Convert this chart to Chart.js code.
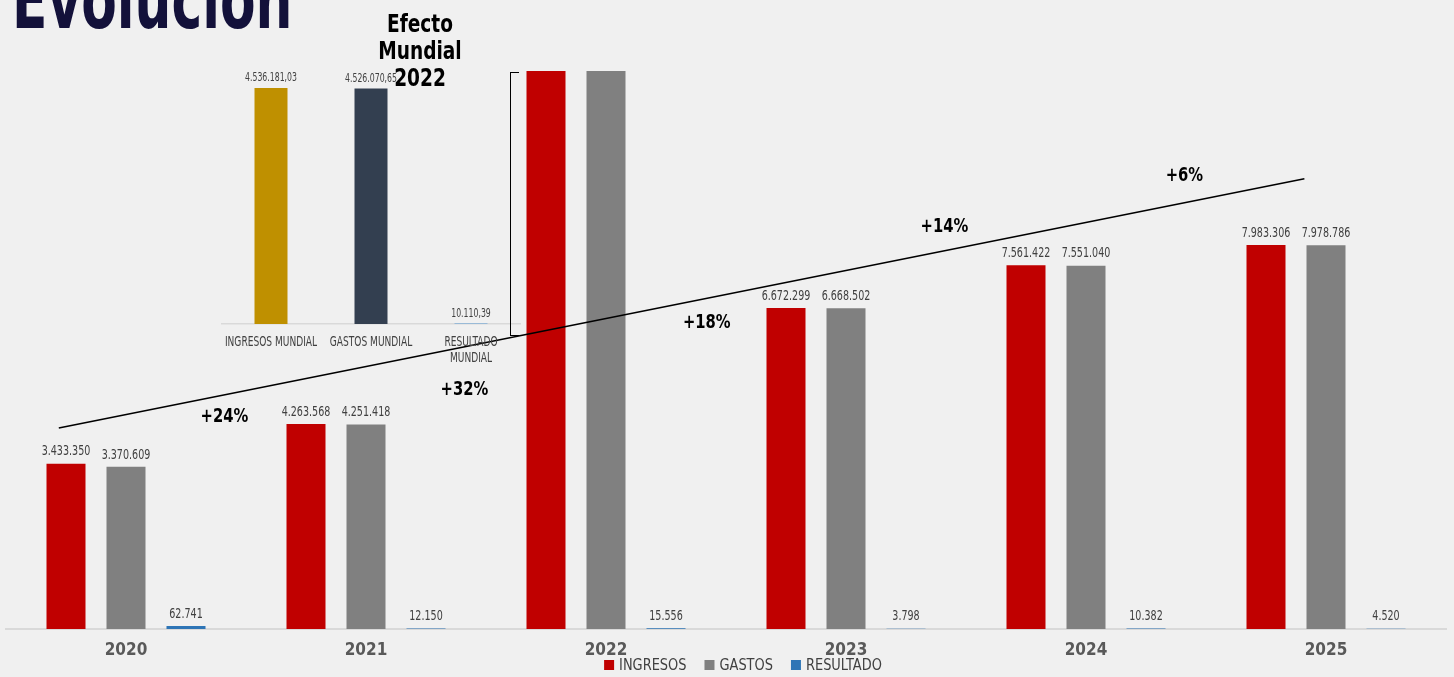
<!DOCTYPE html>
<html lang="es">
<head>
<meta charset="utf-8">
<title>Evolución</title>
<script src="https://cdn.jsdelivr.net/npm/chart.js@4.4.1/dist/chart.umd.min.js"></script>
<style>
  html, body { margin: 0; padding: 0; background: #f0f0f0; overflow: hidden; }
  #wrap { position: relative; width: 1454px; height: 677px; }
  #main { position: absolute; left: 0; top: 0; }
  #inset { position: absolute; left: 221px; top: 60px; }
  .title {
    position: absolute; left: 12px; top: -39px; white-space: nowrap;
    font: bold 80px/1 "DejaVu Sans Condensed", sans-serif;
    color: #13113a; transform-origin: left top; transform: scaleX(0.72);
  }
  .efecto {
    position: absolute; left: 360px; top: 11px; width: 120px; text-align: center;
    font: bold 24px/27px "DejaVu Sans Condensed", sans-serif;
    color: #000; transform: scaleX(0.86);
  }
  .bracket {
    position: absolute; left: 510px; top: 72px; width: 8px; height: 262px;
    border: 1.5px solid #000; border-right: none;
  }
</style>
</head>
<body>
<div id="wrap">
  <canvas id="main" width="1454" height="677"></canvas>
  <canvas id="inset" width="300" height="310"></canvas>
  <div class="bracket"></div>
  <div class="title">Evolución</div>
  <div class="efecto">Efecto<br>Mundial<br>2022</div>
</div>
<script>
const FONT = '"DejaVu Sans Condensed", sans-serif';

// main chart data
const years = ["2020", "2021", "2022", "2023", "2024", "2025"];
const ingresos = [3433350, 4263568, 12000000, 6672299, 7561422, 7983306]; // 2022 runs off the top
const gastos = [3370609, 4251418, 11990000, 6668502, 7551040, 7978786];
const resultado = [62741, 12150, 15556, 3798, 10382, 4520];

// trend line (x in category index units)
const trendX = [-0.28, 4.91];
const trendY = [4180000, 9360000];

// growth notes between years
const growthText = ["+24%", "+32%", "+18%", "+14%", "+6%"];
const growthX = [0.41, 1.41, 2.42, 3.41, 4.41];
const growthY = [4410000, 4970000, 6360000, 8360000, 9420000];

// inset: Mundial 2022
const mundialLabels = [["INGRESOS MUNDIAL"], ["GASTOS MUNDIAL"], ["RESULTADO", "MUNDIAL"]];
const mundialValues = [4536181.03, 4526070.65, 10110.39];
const mundialColors = ["#bf9000", "#333f50", "#5b9bd5"];

const fmt = (v, d = 0) => {
  const [i, f] = v.toFixed(d).split(".");
  return i.replace(/\B(?=(\d{3})+(?!\d))/g, ".") + (f ? "," + f : "");
};

// narrow text: the source font is a condensed one, squeeze horizontally
const narrowText = (ctx, text, x, y, sx) => {
  ctx.save();
  ctx.translate(x, y);
  ctx.scale(sx, 1);
  ctx.fillText(text, 0, 0);
  ctx.restore();
};

const barLabels = (decimals, size, sx, gap) => ({
  id: "barLabels",
  afterDatasetsDraw(chart) {
    const { ctx, scales: { y } } = chart;
    ctx.save();
    ctx.font = `${size}px ${FONT}`;
    ctx.fillStyle = "#404040";
    ctx.textAlign = "center";
    ctx.textBaseline = "bottom";
    chart.data.datasets.forEach((ds, di) => {
      chart.getDatasetMeta(di).data.forEach((bar, i) => {
        if (ds.data[i] > y.max) return;
        narrowText(ctx, fmt(ds.data[i], decimals), bar.x, bar.y - gap, sx);
      });
    });
    ctx.restore();
  }
});

const trendAndNotes = {
  id: "trendAndNotes",
  afterDatasetsDraw(chart) {
    const { ctx, scales: { x, y } } = chart;
    ctx.save();
    ctx.strokeStyle = "#000";
    ctx.lineWidth = 1.5;
    ctx.beginPath();
    trendX.forEach((v, i) => {
      const px = x.getPixelForValue(v), py = y.getPixelForValue(trendY[i]);
      i ? ctx.lineTo(px, py) : ctx.moveTo(px, py);
    });
    ctx.stroke();
    ctx.font = `bold 20px ${FONT}`;
    ctx.fillStyle = "#000";
    ctx.textAlign = "center";
    ctx.textBaseline = "middle";
    growthText.forEach((t, i) => {
      narrowText(ctx, t, x.getPixelForValue(growthX[i]), y.getPixelForValue(growthY[i]), 0.82);
    });
    ctx.restore();
  }
};

const bottomLegend = {
  id: "bottomLegend",
  afterDraw(chart) {
    const { ctx } = chart;
    const sx = 0.9, box = 10, gapText = 5, gapItem = 18, cy = 665;
    ctx.save();
    ctx.font = `16px ${FONT}`;
    ctx.textBaseline = "middle";
    ctx.textAlign = "left";
    const items = chart.data.datasets.map(ds => ({
      text: ds.label, color: ds.backgroundColor, w: ctx.measureText(ds.label).width * sx
    }));
    const total = items.reduce((s, it) => s + box + gapText + it.w, 0) + gapItem * (items.length - 1);
    let cx = chart.width / 2 + 16 - total / 2;
    items.forEach(it => {
      ctx.fillStyle = it.color;
      ctx.fillRect(cx, cy - box / 2, box, box);
      cx += box + gapText;
      ctx.fillStyle = "#404040";
      narrowText(ctx, it.text, cx, cy + 1, sx);
      cx += it.w + gapItem;
    });
    ctx.restore();
  }
};

new Chart(document.getElementById("main"), {
  type: "bar",
  data: {
    labels: years,
    datasets: [
      { label: "INGRESOS", data: ingresos, backgroundColor: "#c00000" },
      { label: "GASTOS", data: gastos, backgroundColor: "#808080" },
      { label: "RESULTADO", data: resultado, backgroundColor: "#2e75b6" }
    ]
  },
  options: {
    responsive: false,
    animation: false,
    layout: { padding: { top: 71, left: 6, right: 8, bottom: 0 } },
    categoryPercentage: 0.75,
    barPercentage: 0.65,
    scales: {
      x: {
        grid: { display: false },
        border: { color: "#d9d9d9", width: 2 },
        ticks: { color: "#595959", font: { family: FONT, size: 17, weight: "bold" }, padding: 3 },
        afterFit: s => { s.height = 48; }
      },
      y: { display: false, min: 0, max: 11600000 }
    },
    plugins: { legend: { display: false }, tooltip: { enabled: false } }
  },
  plugins: [barLabels(0, 14, 0.76, 5), trendAndNotes, bottomLegend]
});

const insetTicks = {
  id: "insetTicks",
  afterDraw(chart) {
    const { ctx, scales: { x } } = chart;
    ctx.save();
    ctx.font = `14px ${FONT}`;
    ctx.fillStyle = "#404040";
    ctx.textAlign = "center";
    ctx.textBaseline = "middle";
    mundialLabels.forEach((lines, i) => {
      lines.forEach((t, j) => narrowText(ctx, t, x.getPixelForTick(i), x.bottom - 28 + j * 16, 0.72));
    });
    ctx.restore();
  }
};

new Chart(document.getElementById("inset"), {
  type: "bar",
  data: {
    labels: mundialLabels,
    datasets: [{ data: mundialValues, backgroundColor: mundialColors, categoryPercentage: 1, barPercentage: 0.33 }]
  },
  options: {
    responsive: false,
    animation: false,
    layout: { padding: { top: 20, left: 0, right: 0, bottom: 0 } },
    scales: {
      x: {
        grid: { display: false },
        border: { color: "#d9d9d9", width: 1.5 },
        ticks: { display: false },
        afterFit: s => { s.height = 46; }
      },
      y: { display: false, min: 0, max: 4690000 }
    },
    plugins: { legend: { display: false }, tooltip: { enabled: false } }
  },
  plugins: [barLabels(2, 12, 0.72, 4), insetTicks]
});
</script>
</body>
</html>
